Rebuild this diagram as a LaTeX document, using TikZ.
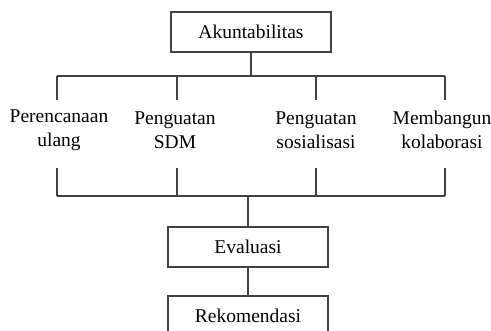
\documentclass[tikz,border=0pt]{standalone}
\usepackage{fontspec}
\setmainfont{Liberation Serif}
\usetikzlibrary{positioning}

\begin{document}
\begin{tikzpicture}[x=1pt, y=-1pt,
        kotak/.style={draw=black!75, line width=1.5pt, minimum width=160pt, minimum height=40pt, font=\fontsize{19.5}{23}\selectfont},
        uraian/.style={align=center, inner sep=0pt, font=\fontsize{19.5}{24}\selectfont},
        garis/.style={draw=black!75, line width=1.5pt}]
        % Batas gambar
        \clip (0,0) rectangle (491,331);
        \fill[white] (0,0) rectangle (491,331);

        % Kotak utama
        \node[kotak] (akun) at (251,32) {Akuntabilitas};
        \node[kotak] (eval) at (248,247) {Evaluasi};
        \node[kotak] (rekom) at (248,316) {Rekomendasi};

        % Empat uraian
        \node[uraian] (p1) at (59,130) {Perencanaan\\ulang};
        \node[uraian] (p2) at (175,130) {Penguatan\\SDM};
        \node[uraian] (p3) at (316,130) {Penguatan\\sosialisasi};
        \node[uraian] (p4) at (442,130) {Membangun\\kolaborasi};

        % Garis cabang atas dan bawah
        \coordinate (atasL) at (57,76);
        \coordinate (atasR) at (445,76);
        \coordinate (bawahL) at (57,196);
        \coordinate (bawahR) at (445,196);
        \draw[garis] (akun.south) -- (akun.south |- atasL);
        \draw[garis] (atasL) -- (atasR);
        \draw[garis] (bawahL) -- (bawahR);
        \foreach \n/\x in {1/57, 2/177, 3/316, 4/445} {
            \coordinate (ta\n) at (\x,76);
            \coordinate (tb\n) at (\x,100);
            \coordinate (bc\n) at (\x,168);
            \coordinate (bd\n) at (\x,196);
            \draw[garis] (ta\n) -- (tb\n);
            \draw[garis] (bc\n) -- (bd\n);
        }
        \draw[garis] (eval.north |- bawahL) -- (eval.north);
        \draw[garis] (eval.south) -- (rekom.north);
    \end{tikzpicture}
\end{document}
